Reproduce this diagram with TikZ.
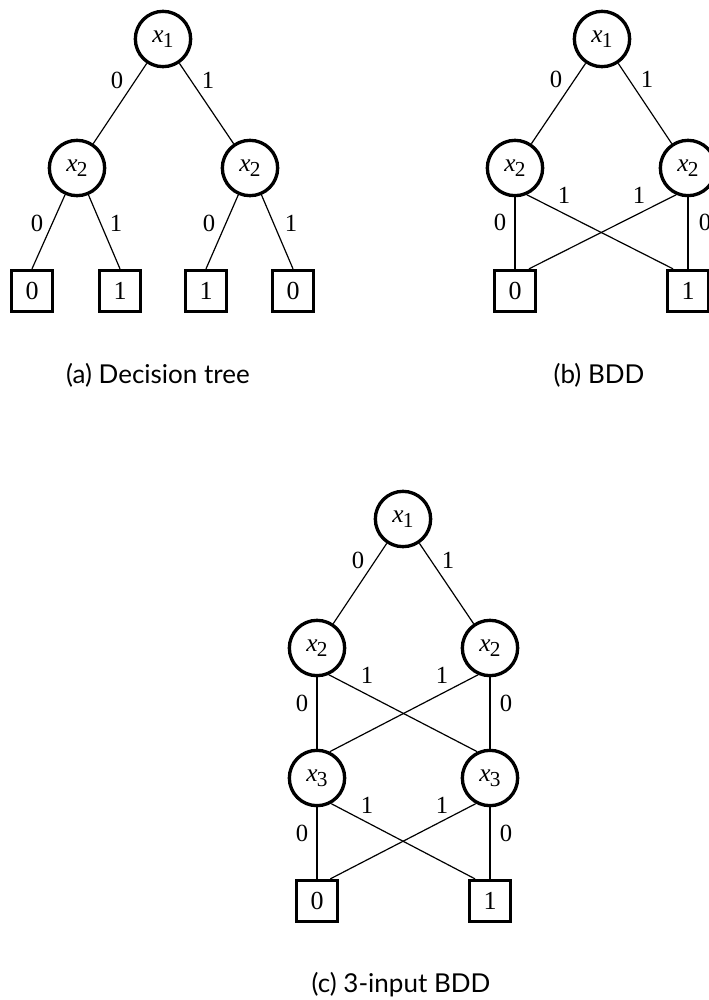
\documentclass[tikz,border=0pt]{standalone}
\usepackage{fontspec}
\setmainfont{Liberation Serif}
\newfontfamily\capfont{Lato}
\newcommand\xvar[1]{\textit{x}\kern-0.5pt\raisebox{-4pt}{\fontsize{16}{16}\selectfont #1}}
\tikzset{
  var/.style={circle, draw, line width=2.5pt, minimum size=41.5pt, inner sep=0pt, font=\fontsize{19}{19}\selectfont},
  leaf/.style={rectangle, draw, line width=2.5pt, minimum size=30.75pt, inner sep=0pt, font=\fontsize{19.5}{19.5}\selectfont},
  lbl/.style={inner sep=0pt, font=\fontsize{18.5}{18.5}\selectfont},
  conn/.style={line width=0.9pt},
  vconn/.style={line width=1.4pt},
  captext/.style={inner sep=0pt, font=\capfont\fontsize{19.5}{19.5}\selectfont},
}
\begin{document}
\begin{tikzpicture}[x=0.75pt, y=-0.75pt]
\useasboundingbox (0,0) rectangle (709,1000);
% (a) decision tree
\node[var] (a1) at (163,39) {\xvar{1}};
\node[var] (a2l) at (77,168) {\xvar{2}};
\node[var] (a2r) at (250,168) {\xvar{2}};
\node[leaf] (aL1) at (32,291) {0};
\node[leaf] (aL2) at (120,291) {1};
\node[leaf] (aL3) at (206,291) {1};
\node[leaf] (aL4) at (293,291) {0};
\draw[conn] (a1) -- (a2l);
\draw[conn] (a1) -- (a2r);
\draw[conn] (a2l) -- (aL1.north);
\draw[conn] (a2l) -- (aL2.north);
\draw[conn] (a2r) -- (aL3.north);
\draw[conn] (a2r) -- (aL4.north);
\node[lbl] (la1) at (117,80) {0};
\node[lbl] (la2) at (208,80) {1};
\node[lbl] (la3) at (37,223) {0};
\node[lbl] (la4) at (116,223) {1};
\node[lbl] (la5) at (209,223) {0};
\node[lbl] (la6) at (291,223) {1};
\node[captext] (capa) at (158,375) {(a) Decision tree};
% (b) BDD
\node[var] (b1) at (602,39) {\xvar{1}};
\node[var] (b2l) at (515,168) {\xvar{2}};
\node[var] (b2r) at (688,168) {\xvar{2}};
\node[leaf] (bL0) at (515,291) {0};
\node[leaf] (bL1) at (688,291) {1};
\draw[conn] (b1) -- (b2l);
\draw[conn] (b1) -- (b2r);
\draw[vconn] (b2l) -- (bL0);
\draw[vconn] (b2r) -- (bL1);
\draw[conn] (b2l.-66) -- ([xshift=-11.25pt]bL1.north);
\draw[conn] (b2r.-114) -- ([xshift=10.5pt]bL0.north);
\node[lbl] (lb1) at (556,79) {0};
\node[lbl] (lb2) at (647,79) {1};
\node[lbl] (lb3) at (564,195) {1};
\node[lbl] (lb4) at (639,195) {1};
\node[lbl] (lb5) at (500,222) {0};
\node[lbl] (lb6) at (705,222) {0};
\node[captext] (capb) at (599,375) {(b) BDD};
% (c) 3-input BDD
\node[var] (c1) at (403,519) {\xvar{1}};
\node[var] (c2l) at (317,648) {\xvar{2}};
\node[var] (c2r) at (490,648) {\xvar{2}};
\node[var] (c3l) at (317,778) {\xvar{3}};
\node[var] (c3r) at (490,778) {\xvar{3}};
\node[leaf] (cL0) at (317,901) {0};
\node[leaf] (cL1) at (490,901) {1};
\draw[conn] (c1) -- (c2l);
\draw[conn] (c1) -- (c2r);
\draw[vconn] (c2l) -- (c3l);
\draw[vconn] (c2r) -- (c3r);
\draw[conn] (c2l.-66) -- (c3r.116);
\draw[conn] (c2r.-114) -- (c3l.64);
\draw[vconn] (c3l) -- (cL0);
\draw[vconn] (c3r) -- (cL1);
\draw[conn] (c3l.-61) -- ([xshift=-11.25pt]cL1.north);
\draw[conn] (c3r.-119) -- ([xshift=10pt]cL0.north);
\node[lbl] (lc1) at (358,560) {0};
\node[lbl] (lc2) at (448,560) {1};
\node[lbl] (lc3) at (367,675) {1};
\node[lbl] (lc4) at (442,675) {1};
\node[lbl] (lc5) at (302,703) {0};
\node[lbl] (lc6) at (506,703) {0};
\node[lbl] (lc7) at (367,805) {1};
\node[lbl] (lc8) at (442,805) {1};
\node[lbl] (lc9) at (302,833) {0};
\node[lbl] (lc10) at (506,833) {0};
\node[captext] (capc) at (401,985) {(c) 3-input BDD};
\end{tikzpicture}
\end{document}
